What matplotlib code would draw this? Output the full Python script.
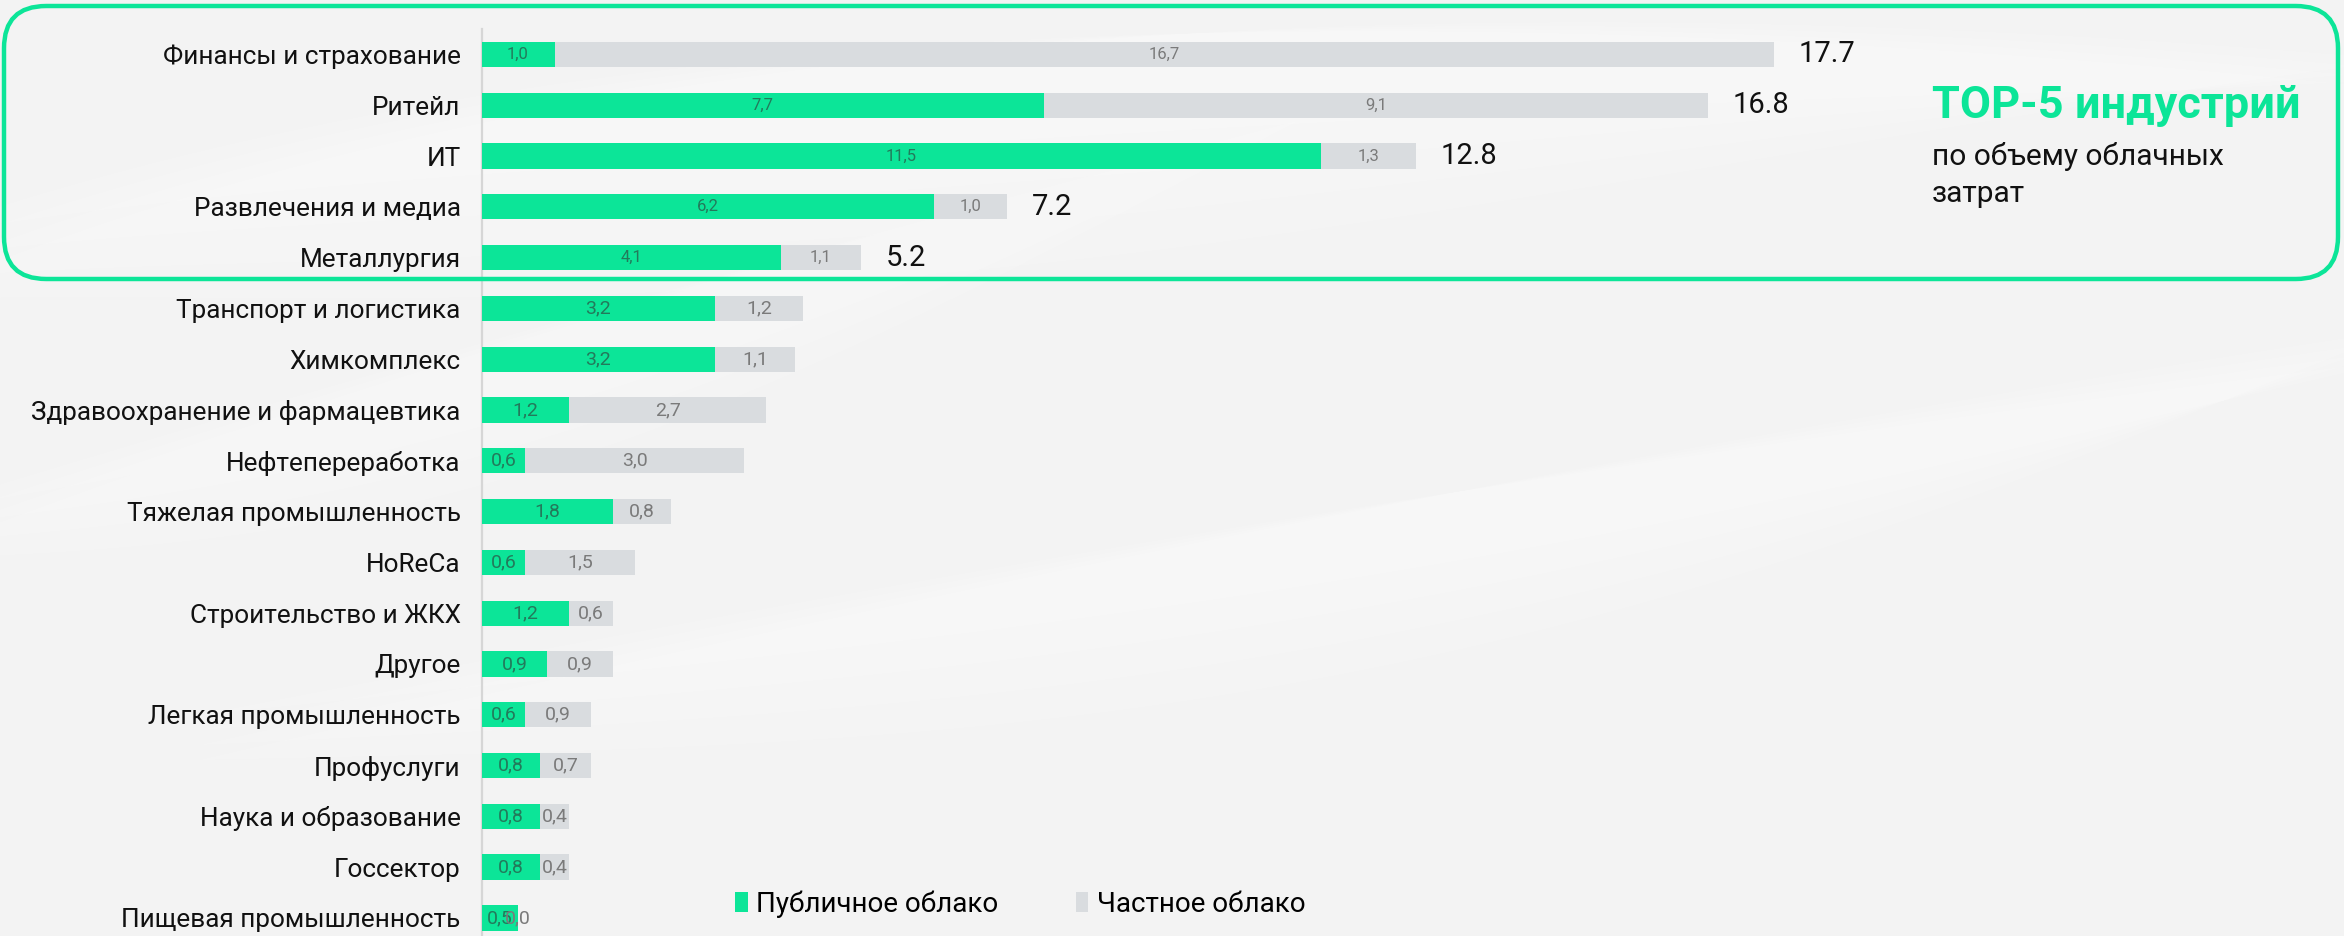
import matplotlib
matplotlib.use("Agg")
import matplotlib.pyplot as plt
from matplotlib.patches import FancyBboxPatch, Polygon
import numpy as np

categories = ["Финансы и страхование", "Ритейл", "ИТ", "Развлечения и медиа", "Металлургия",
              "Транспорт и логистика", "Химкомплекс", "Здравоохранение и фармацевтика",
              "Нефтепереработка", "Тяжелая промышленность", "HoReCa", "Строительство и ЖКХ",
              "Другое", "Легкая промышленность", "Профуслуги", "Наука и образование",
              "Госсектор", "Пищевая промышленность"]
public_cloud = [1.0, 7.7, 11.5, 6.2, 4.1, 3.2, 3.2, 1.2, 0.6, 1.8, 0.6, 1.2, 0.9, 0.6, 0.8, 0.8, 0.8, 0.5]
private_cloud = [16.7, 9.1, 1.3, 1.0, 1.1, 1.2, 1.1, 2.7, 3.0, 0.8, 1.5, 0.6, 0.9, 0.9, 0.7, 0.4, 0.4, 0.0]
top_totals = [17.7, 16.8, 12.8, 7.2, 5.2]
series_names = ["Публичное облако", "Частное облако"]
title_text = "TOP-5 индустрий"
subtitle_text = "по объему облачных\nзатрат"

GREEN = "#0CE598"
GREY = "#D9DCDF"
BG = "#F3F3F3"
FONT = ["Roboto", "DejaVu Sans"]

W, H = 2344, 936
fig = plt.figure(figsize=(W / 100, H / 100), dpi=100)
fig.patch.set_facecolor(BG)

# soft decorative background swooshes
bg = fig.add_axes([0, 0, 1, 1], zorder=-10)
bg.set_xlim(0, W); bg.set_ylim(H, 0); bg.axis("off")
t = np.linspace(0, 1, 300)
def band(x0, y0, x1, y1, cx, cy, w, alpha):
    xs = (1 - t) ** 2 * x0 + 2 * (1 - t) * t * cx + t ** 2 * x1
    ys = (1 - t) ** 2 * y0 + 2 * (1 - t) * t * cy + t ** 2 * y1
    lower = ys + w * np.sin(np.pi * t)
    pts = np.column_stack([np.r_[xs, xs[::-1]], np.r_[ys, lower[::-1]]])
    bg.add_patch(Polygon(pts, closed=True, fc="white", ec="none", alpha=alpha))
for k in range(4):
    band(-100, 300 - 20 * k, 2400, 60 + 10 * k, 800, -80, 220 - 40 * k, 0.14)
    band(200, 760 - 15 * k, 2400, 330 + 10 * k, 1400, 480, 160 - 30 * k, 0.13)
    band(-100, 560 - 15 * k, 1300, 120, 500, 330, 130 - 25 * k, 0.11)

ax = fig.add_axes([481.5 / W, 0.0, 1 - 481.5 / W, (H - 29) / H])
ax.set_facecolor("none")
y = np.arange(len(categories))
b1 = ax.barh(y, public_cloud, height=0.5, color=GREEN, label=series_names[0], zorder=3)
b2 = ax.barh(y, private_cloud, left=public_cloud, height=0.5, color=GREY, label=series_names[1], zorder=3)
ax.set_xlim(0, (W - 481.5) / 73.0)
ax.set_ylim(17 + 18 / 50.8, -0.5)

for s in ["top", "right", "bottom"]:
    ax.spines[s].set_visible(False)
ax.spines["left"].set_color("#D6D6D6")
ax.spines["left"].set_linewidth(1.6)
ax.set_xticks([])
ax.set_yticks(y)
ax.set_yticklabels(categories, fontsize=18.8, family=FONT, color="#111111")
ax.tick_params(axis="y", length=0, pad=15)

def fmt(v):
    return f"{v:.1f}".replace(".", ",")

for i, (p, q) in enumerate(zip(public_cloud, private_cloud)):
    fs = 12 if i < 5 else 14
    ax.text(p / 2, i, fmt(p), ha="center", va="center", fontsize=fs, family=FONT,
            color="#237a5b", zorder=4)
    ax.text(p + q / 2, i, fmt(q), ha="center", va="center", fontsize=fs, family=FONT,
            color="#7a7a7a", zorder=4)

for i, tot in enumerate(top_totals):
    ax.text(public_cloud[i] + private_cloud[i] + 0.34, i, f"{tot:.1f}", ha="left", va="center",
            fontsize=21, family=FONT, color="#111111", zorder=4)

# highlight box around top-5
box = FancyBboxPatch((4 / W, (H - 279) / H), (2338 - 4) / W, (279 - 6) / H,
                     boxstyle="round,pad=0,rounding_size=0.018", transform=fig.transFigure,
                     fc="none", ec=GREEN, lw=3.2, mutation_aspect=W / H, zorder=5)
fig.add_artist(box)

fig.text(1932 / W, (H - 106) / H, title_text, fontsize=32.5, fontweight="bold", family=FONT,
         color=GREEN, ha="left", va="center")
fig.text(1932 / W, (H - 175) / H, subtitle_text, fontsize=21.5, family=FONT, color="#111111",
         ha="left", va="center", linespacing=1.45)

leg = fig.legend(handles=[b1, b2], loc="center left", bbox_to_anchor=(710 / W, (H - 904) / H),
                 ncol=2, frameon=False, prop={"family": FONT, "size": 20},
                 handlelength=0.45, handleheight=0.7, handletextpad=0.3, columnspacing=2.8)

fig.savefig("out.png", dpi=100, facecolor=BG)
